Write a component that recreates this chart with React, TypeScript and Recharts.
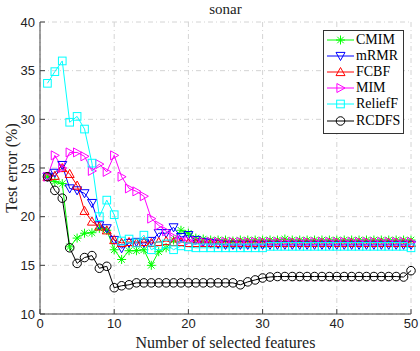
import React from 'react';
import { LineChart, Line, XAxis, YAxis, CartesianGrid, Legend } from 'recharts';

// number of selected features (x)
const features = [
  1, 2, 3, 4, 5, 6, 7, 8, 9, 10, 11, 12, 13, 14, 15, 16, 17, 18, 19, 20, 21, 22, 23, 24, 25,
  26, 27, 28, 29, 30, 31, 32, 33, 34, 35, 36, 37, 38, 39, 40, 41, 42, 43, 44, 45, 46, 47, 48, 49, 50,
];

// test error (%) per method
const cmim = [
  24.1, 23.6, 23.4, 16.9, 17.8, 18.3, 18.35, 18.8, 18.6, 16.6, 15.6, 16.5, 16.5, 16.6, 15.0, 16.4, 16.8, 17.6, 18.6, 18.3,
  17.8, 17.7, 17.6, 17.6, 17.6, 17.5, 17.6, 17.6, 17.6, 17.6, 17.6, 17.6, 17.7, 17.6, 17.6, 17.6, 17.6, 17.6, 17.6, 17.6,
  17.6, 17.6, 17.6, 17.6, 17.6, 17.6, 17.6, 17.6, 17.6, 17.6,
];
const mrmr = [
  24.1, 24.5, 25.3, 22.9, 22.7, 22.4, 21.4, 19.1, 18.8, 17.6, 16.75, 17.3, 17.4, 17.3, 17.5, 18.3, 18.3, 18.9, 17.9, 18.1,
  17.6, 17.4, 17.3, 17.2, 17.1, 17.1, 17.1, 17.1, 17.1, 17.1, 17.1, 17.1, 17.1, 17.1, 17.1, 17.1, 17.1, 17.1, 17.1, 17.1,
  17.1, 17.1, 17.1, 17.1, 17.1, 17.1, 17.1, 17.1, 17.1, 17.1,
];
const fcbf = [
  24.1, 24.2, 25.0, 24.4, 23.2, 20.6, 19.5, 19.0, 18.6, 17.6, 17.3, 17.4, 17.3, 17.4, 17.3, 17.4, 17.5, 17.4, 17.4, 17.3,
  17.3, 17.3, 17.3, 17.3, 17.3, 17.3, 17.3, 17.3, 17.3, 17.3, 17.3, 17.3, 17.3, 17.3, 17.3, 17.3, 17.3, 17.3, 17.3, 17.3,
  17.3, 17.3, 17.3, 17.3, 17.3, 17.3, 17.3, 17.3, 17.3, 17.3,
];
const mim = [
  24.1, 26.3, 25.0, 26.6, 26.6, 26.2, 24.7, 25.4, 24.6, 26.3, 24.1, 22.9, 22.6, 22.1, 19.8, 19.1, 18.5, 17.9, 17.6, 17.5,
  17.5, 17.4, 17.4, 17.4, 17.4, 17.4, 17.4, 17.4, 17.4, 17.4, 17.4, 17.4, 17.4, 17.4, 17.4, 17.4, 17.4, 17.4, 17.4, 17.4,
  17.4, 17.4, 17.4, 17.4, 17.4, 17.4, 17.4, 17.4, 17.4, 17.4,
];
const relieff = [
  33.7, 34.9, 36.0, 29.7, 30.3, 29.0, 25.5, 20.0, 21.7, 20.2, 17.5, 17.7, 17.3, 18.1, 16.6, 17.0, 17.2, 16.6, 17.0, 16.9,
  16.8, 16.8, 16.8, 16.8, 16.8, 16.8, 16.8, 16.8, 16.8, 16.8, 16.95, 16.95, 16.95, 16.95, 16.95, 16.95, 16.95, 16.95, 16.95, 16.95,
  16.95, 16.95, 16.95, 16.95, 16.95, 16.95, 16.95, 16.95, 16.95, 16.8,
];
const rcdfs = [
  24.1, 22.7, 21.9, 16.8, 15.2, 15.8, 16.0, 14.7, 14.9, 12.7, 12.9, 13.0, 13.2, 13.2, 13.2, 13.2, 13.2, 13.2, 13.2, 13.2,
  13.2, 13.2, 13.2, 13.2, 13.2, 13.2, 13.0, 13.3, 13.5, 13.7, 13.8, 13.85, 13.85, 13.85, 13.85, 13.85, 13.85, 13.85, 13.85, 13.85,
  13.85, 13.85, 13.85, 13.85, 13.85, 13.85, 13.85, 13.85, 13.8, 14.45,
];

const xTicks = [0, 10, 20, 30, 40, 50];
const yTicks = [10, 15, 20, 25, 30, 35, 40];

const seriesKeys = ['CMIM', 'mRMR', 'FCBF', 'MIM', 'ReliefF', 'RCDFS'];
const seriesValues = [cmim, mrmr, fcbf, mim, relieff, rcdfs];
const seriesColors = ['#00ff00', '#0000ff', '#ff0000', '#ff00ff', '#00ffff', '#000000'];
const seriesShapes = ['asterisk', 'down', 'up', 'right', 'square', 'circle'];

const data = features.map((x, i) => {
  const row: Record<string, number> = { x };
  seriesKeys.forEach((k, j) => {
    row[k] = seriesValues[j][i];
  });
  return row;
});

const serif = '"Liberation Serif", "Times New Roman", serif';
const sans = '"Liberation Sans", Arial, sans-serif';
const axisColor = '#444';

const Marker = ({ cx, cy, shape, color }: { cx: number; cy: number; shape: string; color: string }) => {
  const s = 4.5;
  const common = { fill: 'none', stroke: color, strokeWidth: 1 };
  if (cx == null || cy == null) return null;
  switch (shape) {
    case 'asterisk': {
      const d = s * 0.72;
      return (
        <g {...common}>
          <line x1={cx - s} y1={cy} x2={cx + s} y2={cy} />
          <line x1={cx} y1={cy - s} x2={cx} y2={cy + s} />
          <line x1={cx - d} y1={cy - d} x2={cx + d} y2={cy + d} />
          <line x1={cx - d} y1={cy + d} x2={cx + d} y2={cy - d} />
        </g>
      );
    }
    case 'down':
      return <polygon {...common} points={`${cx - s},${cy - s * 0.8} ${cx + s},${cy - s * 0.8} ${cx},${cy + s}`} />;
    case 'up':
      return <polygon {...common} points={`${cx - s},${cy + s * 0.8} ${cx + s},${cy + s * 0.8} ${cx},${cy - s}`} />;
    case 'right':
      return <polygon {...common} points={`${cx - s * 0.8},${cy - s} ${cx - s * 0.8},${cy + s} ${cx + s},${cy}`} />;
    case 'square':
      return <rect {...common} x={cx - s * 0.85} y={cy - s * 0.85} width={s * 1.7} height={s * 1.7} />;
    default:
      return <circle {...common} cx={cx} cy={cy} r={s * 0.95} />;
  }
};

const renderLegend = () => (
  <div
    style={{
      border: '1px solid #333',
      background: '#fff',
      padding: '1px 4px 4px 3px',
      fontFamily: serif,
      fontSize: 14,
      lineHeight: 1,
      boxSizing: 'border-box',
      width: 81,
    }}
  >
    {seriesKeys.map((name, i) => (
      <div key={name} style={{ display: 'flex', alignItems: 'center', height: 16.1 }}>
        <svg width={27} height={12} style={{ flex: 'none' }}>
          <line x1={0} y1={6} x2={27} y2={6} stroke={seriesColors[i]} strokeWidth={1} />
          <Marker cx={13.5} cy={6} shape={seriesShapes[i]} color={seriesColors[i]} />
        </svg>
        <span style={{ marginLeft: 2 }}>{name}</span>
      </div>
    ))}
  </div>
);

export default function App() {
  return (
    <div style={{ position: 'absolute', left: 0, top: 0, width: 420, height: 351, background: '#fff' }}>
      <div
        style={{
          position: 'absolute',
          left: 40,
          width: 371,
          top: 1,
          textAlign: 'center',
          fontFamily: serif,
          fontSize: 15,
          lineHeight: '17px',
          color: '#222',
        }}
      >
        sonar
      </div>
      <LineChart width={420} height={351} data={data} margin={{ top: 22, right: 9, left: 0, bottom: 0 }}>
        <CartesianGrid stroke="#d4d4d4" strokeDasharray="5 3 1 3" verticalValues={xTicks} horizontalValues={yTicks} />
        <XAxis
          dataKey="x"
          type="number"
          domain={[0, 50]}
          ticks={xTicks}
          height={37}
          tickSize={-5}
          tickMargin={10}
          stroke={axisColor}
          tick={{ fill: '#222', fontFamily: sans, fontSize: 13 }}
          label={{ value: 'Number of selected features', position: 'insideBottom', offset: 3, fill: '#222', fontFamily: serif, fontSize: 16 }}
        />
        <XAxis
          xAxisId="top"
          orientation="top"
          type="number"
          domain={[0, 50]}
          ticks={xTicks}
          height={0}
          tickSize={-5}
          tick={false}
          stroke={axisColor}
        />
        <YAxis
          type="number"
          domain={[10, 40]}
          ticks={yTicks}
          width={40}
          tickSize={-5}
          tickMargin={10}
          stroke={axisColor}
          tick={{ fill: '#222', fontFamily: sans, fontSize: 13 }}
          label={{ value: 'Test error (%)', angle: -90, position: 'center', dx: -9, fill: '#222', fontFamily: serif, fontSize: 16 }}
        />
        <YAxis
          yAxisId="right"
          orientation="right"
          type="number"
          domain={[10, 40]}
          ticks={yTicks}
          width={0}
          tickSize={-5}
          tick={false}
          stroke={axisColor}
        />
        {seriesKeys.map((k, i) => (
          <Line
            key={k}
            dataKey={k}
            name={k}
            type="linear"
            stroke={seriesColors[i]}
            strokeWidth={1}
            isAnimationActive={false}
            dot={(p: any) => (
              <Marker key={`${k}-${p.index}`} cx={p.cx} cy={p.cy} shape={seriesShapes[i]} color={seriesColors[i]} />
            )}
            activeDot={false}
          />
        ))}
        <Legend
          layout="vertical"
          align="center"
          verticalAlign="middle"
          content={renderLegend}
          wrapperStyle={{ position: 'absolute', left: 323, top: 30, width: 81, height: 'auto' }}
        />
      </LineChart>
    </div>
  );
}
